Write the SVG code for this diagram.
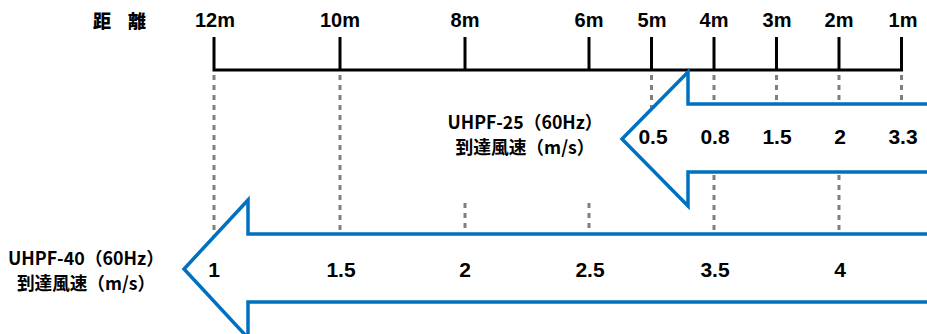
<svg xmlns="http://www.w3.org/2000/svg" width="927" height="334" viewBox="0 0 927 334">
<style>
.tick{stroke:#000;stroke-width:3;fill:none}
.dash{stroke:#7f7f7f;stroke-width:3;stroke-dasharray:5 5;fill:none}
.arrow{fill:#fff;stroke:#0070C0;stroke-width:3.5;stroke-linejoin:miter;stroke-miterlimit:10}
.lbl{font-family:"Liberation Sans",Arial,sans-serif;font-weight:bold;font-size:20px;fill:#000;text-anchor:middle}
.num{font-size:21px}
.cap{font-family:"Noto Sans CJK JP","Noto Sans",sans-serif;font-weight:bold;font-size:18px;fill:#000;text-anchor:middle}
</style>
<rect width="927" height="334" fill="#fff"/>
<g id="connectors">
<line class="dash" x1="214" y1="75" x2="214" y2="240"/>
<line class="dash" x1="340" y1="75" x2="340" y2="236"/>
<line class="dash" x1="465" y1="203" x2="465" y2="236"/>
<line class="dash" x1="589" y1="203" x2="589" y2="236"/>
<line class="dash" x1="651.5" y1="75" x2="651.5" y2="108"/>
<line class="dash" x1="714" y1="75" x2="714" y2="236"/>
<line class="dash" x1="776.5" y1="75" x2="776.5" y2="104"/>
<line class="dash" x1="839" y1="75" x2="839" y2="236"/>
<line class="dash" x1="901.5" y1="75" x2="901.5" y2="104"/>
</g>
<g id="axis">
<text x="93 111 128" y="28" class="cap" style="text-anchor:start;font-weight:900">距 離</text>
<path class="tick" d="M214,37V70H901.5V37M340,37V70M465,37V70M589,37V70M651.5,37V70M714,37V70M776.5,37V70M839,37V70"/>
<text class="lbl" x="215" y="27">12m</text>
<text class="lbl" x="340" y="27">10m</text>
<text class="lbl" x="465" y="27">8m</text>
<text class="lbl" x="589" y="27">6m</text>
<text class="lbl" x="652" y="27">5m</text>
<text class="lbl" x="714" y="27">4m</text>
<text class="lbl" x="777" y="27">3m</text>
<text class="lbl" x="839" y="27">2m</text>
<text class="lbl" x="903" y="27">1m</text>
</g>
<g id="arrow-uhpf25">
<polygon class="arrow" points="935,104 688,104 688,72 622,139 688,206 688,172 935,172"/>
<text class="lbl num" x="653" y="144">0.5</text>
<text class="lbl num" x="715" y="144">0.8</text>
<text class="lbl num" x="777" y="144">1.5</text>
<text class="lbl num" x="840" y="144">2</text>
<text class="lbl num" x="903" y="144">3.3</text>
</g>
<g id="label-uhpf25">
<text class="cap" x="525" y="129" textLength="155" lengthAdjust="spacingAndGlyphs">UHPF-25（60Hz）</text>
<text class="cap" x="525" y="154" textLength="139" lengthAdjust="spacingAndGlyphs">到達風速（m/s）</text>
</g>
<g id="arrow-uhpf40">
<polygon class="arrow" points="935,234 248,234 248,200 184,269 248,338 248,302 935,302"/>
<text class="lbl num" x="214" y="277">1</text>
<text class="lbl num" x="341" y="277">1.5</text>
<text class="lbl num" x="465" y="277">2</text>
<text class="lbl num" x="590" y="277">2.5</text>
<text class="lbl num" x="715" y="277">3.5</text>
<text class="lbl num" x="840" y="277">4</text>
</g>
<g id="label-uhpf40">
<text class="cap" x="86" y="265" textLength="156" lengthAdjust="spacingAndGlyphs">UHPF-40（60Hz）</text>
<text class="cap" x="86" y="290" textLength="138" lengthAdjust="spacingAndGlyphs">到達風速（m/s）</text>
</g>
</svg>
